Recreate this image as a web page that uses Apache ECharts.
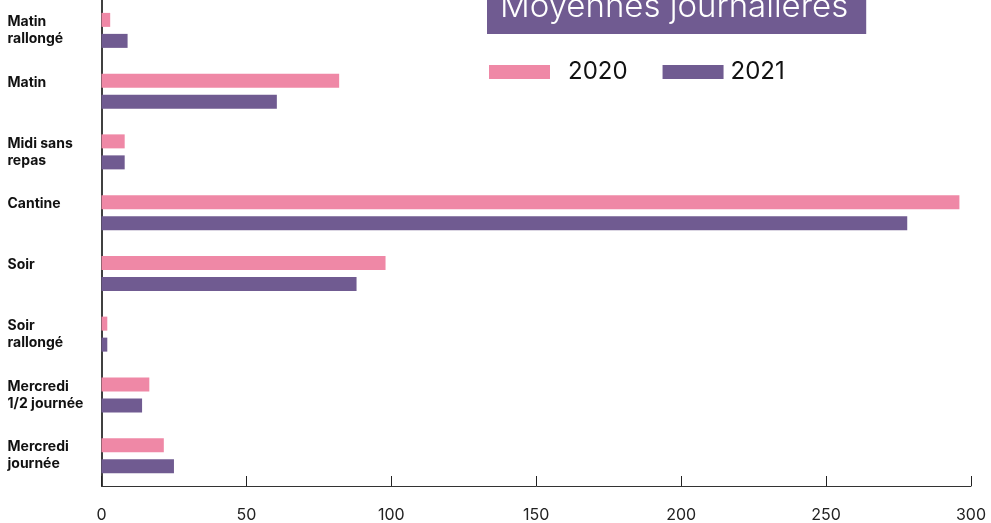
<!DOCTYPE html>
<html>
<head>
<meta charset="utf-8">
<script src="https://cdn.jsdelivr.net/npm/echarts@6/dist/echarts.min.js"></script>
<style>
  html, body { margin: 0; padding: 0; background: #fff; }
  #chart { width: 991px; height: 523px; }
</style>
</head>
<body>
<div id="chart"></div>
<script>
const chart = echarts.init(document.getElementById("chart"));

// categories, top to bottom
const categories = [
  "Matin\nrallongé",
  "Matin",
  "Midi sans\nrepas",
  "Cantine",
  "Soir",
  "Soir\nrallongé",
  "Mercredi\n1/2 journée",
  "Mercredi\njournée"
];

const values2020 = [3, 82, 8, 296, 98, 2, 16.5, 21.5];
const values2021 = [9, 60.5, 8, 278, 88, 2, 14, 25];

const xTicks = [0, 50, 100, 150, 200, 250, 300];

const PINK = "#ef88a6";
const PURPLE = "#705b91";
const FONT = "Inter, 'Open Sans', sans-serif";

chart.setOption({
  animation: false,
  title: {
    text: "Moyennes journalières",
    left: 487,
    top: -12,
    padding: [0, 18, 7, 13],
    backgroundColor: PURPLE,
    textStyle: {
      color: "#fff",
      fontFamily: FONT,
      fontWeight: 300,
      fontSize: 33,
      lineHeight: 39
    }
  },
  legend: {
    left: 489,
    top: 60,
    padding: 0,
    icon: "rect",
    itemWidth: 61,
    itemHeight: 14,
    itemGap: 35,
    textStyle: { fontFamily: FONT, fontSize: 24, color: "#111" },
    data: [
      { name: "2020", textStyle: { padding: [0, 0, 0, 13] } },
      { name: "2021", textStyle: { padding: [0, 0, 0, 2] } }
    ]
  },
  grid: {
    left: 101.5,
    right: 20,
    top: -2,
    bottom: 35,
    containLabel: false
  },
  xAxis: {
    type: "value",
    min: xTicks[0],
    max: xTicks[xTicks.length - 1],
    interval: 50,
    splitLine: { show: false },
    axisLine: { show: true, lineStyle: { color: "#333", width: 1 } },
    axisTick: { show: true, inside: true, length: 10, lineStyle: { color: "#222" } },
    axisLabel: {
      margin: 21,
      fontFamily: FONT,
      fontSize: 16,
      color: "#222"
    }
  },
  yAxis: {
    type: "category",
    inverse: true,
    data: categories,
    axisLine: { show: true, lineStyle: { color: "#000", width: 1.5 } },
    axisTick: { show: false },
    axisLabel: {
      align: "left",
      margin: 94,
      fontFamily: FONT,
      fontWeight: "bold",
      fontSize: 14,
      lineHeight: 17,
      color: "#111",
      // single-line labels sit level with the first bar
      formatter: v => (v.indexOf("\n") >= 0 ? v : v + "\n ")
    }
  },
  series: [
    {
      name: "2020",
      type: "bar",
      data: values2020,
      barWidth: 14,
      barGap: "50%",
      itemStyle: { color: PINK }
    },
    {
      name: "2021",
      type: "bar",
      data: values2021,
      barWidth: 14,
      barGap: "50%",
      itemStyle: { color: PURPLE }
    }
  ]
});
</script>
</body>
</html>
